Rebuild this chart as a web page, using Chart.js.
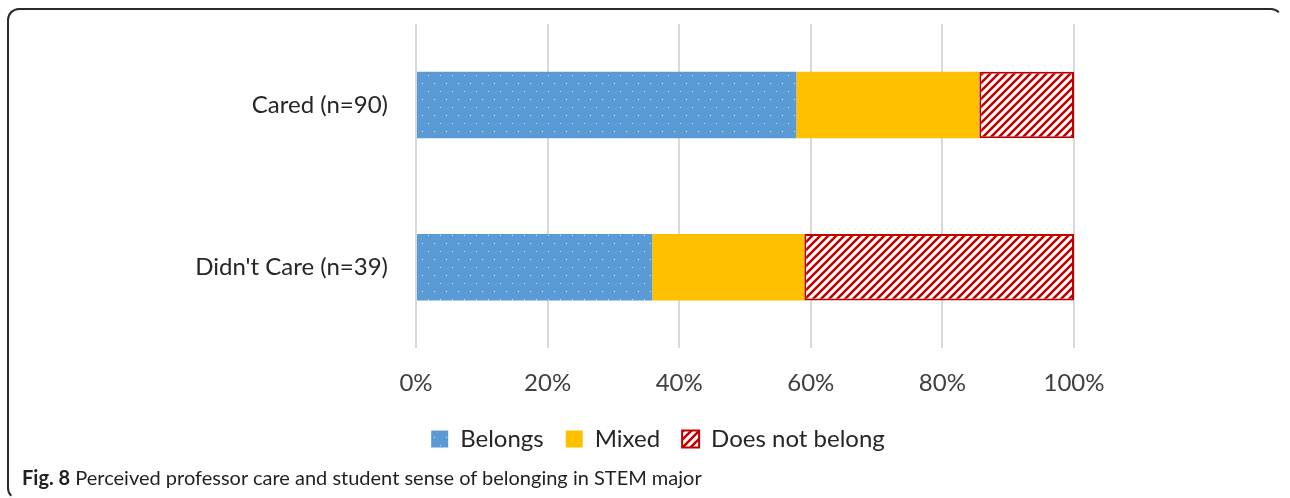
<!DOCTYPE html>
<html>
<head>
<meta charset="utf-8">
<script src="https://cdn.jsdelivr.net/npm/chart.js@4/dist/chart.umd.min.js"></script>
<style>
  html, body { margin: 0; padding: 0; background: #fff; }
  body { width: 1290px; height: 498px; position: relative; overflow: hidden; }
  #frame {
    position: absolute; left: 7px; top: 8px; width: 1276px; height: 492px;
    border: 2px solid #2b2b2b; border-right-color: transparent; border-bottom-color: transparent;
    border-radius: 12px; box-sizing: border-box;
  }
  #wrap { position: absolute; left: 0; top: 0; width: 1290px; height: 485px; }
  #caption {
    position: absolute; left: 22px; top: 465px; font-family: Lato, sans-serif;
    font-size: 20px; color: #231f20; white-space: nowrap;
  }
  #caption b { font-weight: 700; }
</style>
</head>
<body>
<div id="frame"></div>
<div id="wrap"><canvas id="belongChart"></canvas></div>
<div id="caption"><b>Fig. 8</b> Perceived professor care and student sense of belonging in STEM major</div>
<script>
const categories = ['Cared (n=90)', "Didn't Care (n=39)"];
const belongs = [57.8, 35.9];
const mixed = [27.8, 23.1];
const notBelong = [14.4, 41.0];
const xTicks = [0, 20, 40, 60, 80, 100];

const BLUE = '#5b9bd5';
const GOLD = '#ffc000';
const RED = '#c00000';

// blue fill with a staggered grid of pale dots
function dotPattern() {
  const c = document.createElement('canvas');
  c.width = 12; c.height = 16;
  const g = c.getContext('2d');
  g.fillStyle = BLUE;
  g.fillRect(0, 0, 12, 16);
  g.fillStyle = '#d6e6f5';
  g.fillRect(2, 3, 1, 1);
  g.fillRect(8, 11, 1, 1);
  return g.createPattern(c, 'repeat');
}

// white fill with red "/" stripes
function hatchPattern() {
  const s = 8;
  const c = document.createElement('canvas');
  c.width = s; c.height = s;
  const g = c.getContext('2d');
  g.fillStyle = '#fff';
  g.fillRect(0, 0, s, s);
  g.strokeStyle = RED;
  g.lineWidth = 2.6;
  g.beginPath();
  g.moveTo(-2, 2); g.lineTo(2, -2);
  g.moveTo(0, s); g.lineTo(s, 0);
  g.moveTo(s - 2, s + 2); g.lineTo(s + 2, s - 2);
  g.stroke();
  return g.createPattern(c, 'repeat');
}

// draw the legend a few px higher, closer to the axis labels
const liftLegend = {
  id: 'liftLegend',
  afterInit(chart, args, opts) {
    const lg = chart.legend;
    if (!lg) return;
    const draw = lg.draw.bind(lg);
    lg.draw = (area) => {
      const ctx = chart.ctx;
      ctx.save();
      ctx.translate(0, -opts.dy);
      draw(area);
      ctx.restore();
    };
  }
};

const font = { family: 'Lato, sans-serif', size: 24 };

new Chart(document.getElementById('belongChart'), {
  type: 'bar',
  data: {
    labels: categories,
    datasets: [
      { label: 'Belongs', data: belongs, backgroundColor: dotPattern(), borderWidth: 0 },
      { label: 'Mixed', data: mixed, backgroundColor: GOLD, borderWidth: 0 },
      { label: 'Does not belong', data: notBelong, backgroundColor: hatchPattern(),
        borderColor: RED, borderWidth: 2, borderSkipped: false }
    ]
  },
  plugins: [liftLegend],
  options: {
    indexAxis: 'y',
    responsive: true,
    maintainAspectRatio: false,
    animation: false,
    datasets: { bar: { barPercentage: 0.41, categoryPercentage: 1 } },
    layout: { padding: { left: 26, right: 0, top: 24, bottom: 10 } },
    scales: {
      x: {
        stacked: true, min: 0, max: 100,
        afterBuildTicks: (s) => { s.ticks = xTicks.map((v) => ({ value: v })); },
        ticks: { color: '#404040', font, padding: 21, callback: (v) => v + '%' },
        grid: { color: '#d9d9d9', lineWidth: 2, drawTicks: false },
        border: { display: false }
      },
      y: {
        stacked: true,
        afterFit: (s) => { s.width = 390; s.paddingTop = 0; s.paddingBottom = 0; },
        ticks: { color: '#262626', font, padding: 20 },
        grid: { display: false },
        border: { display: false }
      },
      yRight: {
        type: 'linear', position: 'right',
        afterFit: (s) => { s.width = 216; },
        ticks: { display: false },
        grid: { display: false },
        border: { display: false }
      }
    },
    plugins: {
      tooltip: { enabled: false },
      liftLegend: { dy: 14 },
      legend: {
        position: 'bottom',
        labels: { color: '#262626', font, boxWidth: 17, boxHeight: 17, padding: 22 }
      }
    }
  }
});
</script>
</body>
</html>
